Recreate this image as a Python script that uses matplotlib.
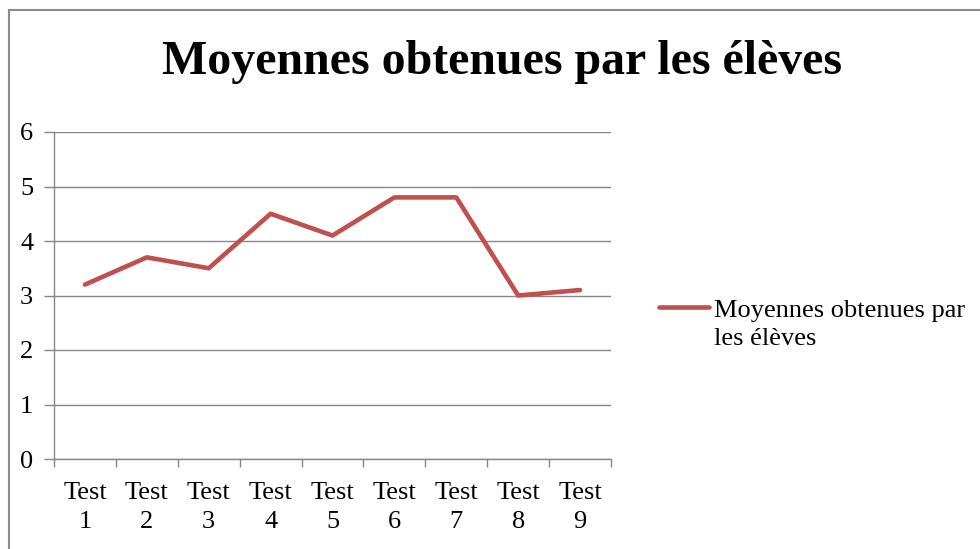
import matplotlib
matplotlib.use("Agg")
import matplotlib.pyplot as plt
from matplotlib.patches import Rectangle
from matplotlib.lines import Line2D

categories = ["Test\n1", "Test\n2", "Test\n3", "Test\n4", "Test\n5",
              "Test\n6", "Test\n7", "Test\n8", "Test\n9"]
moyennes = [3.2, 3.7, 3.5, 4.5, 4.1, 4.8, 4.8, 3.0, 3.1]
y_ticks = [0, 1, 2, 3, 4, 5, 6]
titre = "Moyennes obtenues par les élèves"
serie = "Moyennes obtenues par\nles élèves"

plt.rcParams['font.family'] = ['Liberation Serif', 'DejaVu Serif']
grey = '#868686'
red = '#C0504D'

W, H = 980, 549
fig = plt.figure(figsize=(W / 100, H / 100), dpi=100)
ax = fig.add_axes([54 / W, 1 - 459 / H, (611 - 54) / W, (459 - 132) / H])

x = list(range(len(moyennes)))
ax.plot(x, moyennes, color=red, lw=3.3, solid_capstyle='round', solid_joinstyle='round')

ax.set_xlim(-0.5, len(moyennes) - 0.5)
ax.set_ylim(0, 6)
ax.set_yticks(y_ticks)
ax.grid(axis='y', color=grey, lw=1)
ax.set_axisbelow(True)

# category boundaries as major ticks, labels on minor ticks at centres
ax.set_xticks([i - 0.5 for i in range(len(moyennes) + 1)])
ax.set_xticklabels([])
ax.set_xticks(x, minor=True)
ax.set_xticklabels(categories, minor=True, fontsize=19, linespacing=1.42)
ax.tick_params(axis='x', which='major', length=6, color=grey, width=1)
ax.tick_params(axis='x', which='minor', length=0, pad=16.5)
ax.tick_params(axis='y', length=7, color=grey, width=1, labelsize=19, pad=8)

for s in ['top', 'right']:
    ax.spines[s].set_visible(False)
for s in ['left', 'bottom']:
    ax.spines[s].set_color(grey)
    ax.spines[s].set_linewidth(1)

fig.text(502 / W, 1 - 62 / H, titre, ha='center', va='center',
         fontsize=34.5, fontweight='bold')

# legend drawn by hand, Excel style (handle on first line)
fig.add_artist(Line2D([659 / W, 709 / W], [1 - 307 / H, 1 - 307 / H],
                      color=red, lw=3.3, solid_capstyle='round',
                      transform=fig.transFigure))
fig.text(714 / W, 1 - 300 / H, serie, ha='left', va='top', fontsize=19,
         linespacing=1.38)

fig.add_artist(Rectangle((9 / W, -0.1), 1.2, 1 - 10 / H + 0.1, fill=False,
                         edgecolor='#8c8c8c', lw=1.5, transform=fig.transFigure))

fig.savefig("out.png", dpi=100)
